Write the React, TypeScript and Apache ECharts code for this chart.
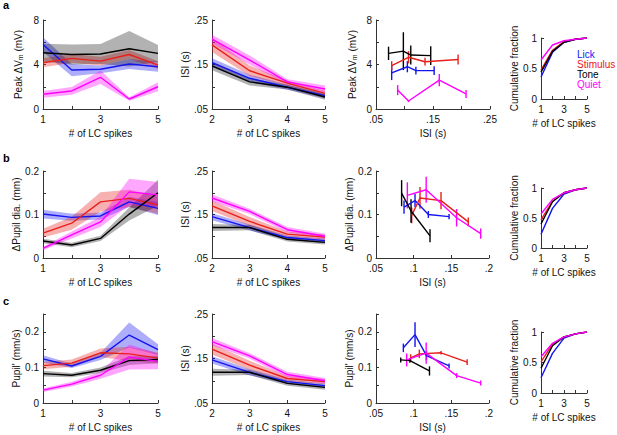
import React, { useEffect, useRef } from 'react';
import * as echarts from 'echarts';

// ---------- DATA ----------
const groupNames = ['Lick', 'Stimulus', 'Tone', 'Quiet'];
const groupColors = ['#1414f0', '#e8201c', '#000000', '#ff00ff'];

const nSpikes = [1, 2, 3, 4, 5];
const nSpikesIsi = [2, 3, 4, 5];

// Row a, panel 1: Peak dVm (mV) vs # LC spikes  (rows: Lick, Stimulus, Tone, Quiet)
const peakVmMean = [
  [5.8, 3.5, 3.57, 4.04, 3.8],
  [4.16, 4.55, 4.3, 4.9, 3.95],
  [5.06, 4.9, 4.94, 5.42, 5.0],
  [1.32, 1.62, 2.85, 0.9, 2.0],
];
const peakVmSem = [
  [0.65, 0.55, 0.35, 0.45, 0.45],
  [0.4, 0.4, 0.4, 0.4, 0.35],
  [0.8, 0.9, 0.9, 1.6, 0.75],
  [0.3, 0.35, 0.6, 0.15, 0.4],
];

// Row a, panel 2: ISI (s) vs # LC spikes
const isiMeanA = [
  [0.154, 0.119, 0.099, 0.08],
  [0.194, 0.136, 0.108, 0.085],
  [0.147, 0.111, 0.099, 0.077],
  [0.207, 0.16, 0.111, 0.095],
];
const isiSemA = [
  [0.01, 0.008, 0.006, 0.006],
  [0.016, 0.012, 0.006, 0.006],
  [0.01, 0.008, 0.005, 0.006],
  [0.01, 0.01, 0.006, 0.008],
];

// Row a, panel 3: Peak dVm vs ISI  (x = ISI, y = value, err = half error bar)
const vmIsiX = [
  [0.0775, 0.105, 0.12, 0.152],
  [0.0775, 0.107, 0.136, 0.194],
  [0.072, 0.098, 0.111, 0.146],
  [0.088, 0.107, 0.161, 0.208],
];
const vmIsiY = [
  [3.25, 3.8, 3.45, 3.45],
  [3.9, 4.65, 4.25, 4.45],
  [5.0, 5.2, 4.85, 4.8],
  [1.7, 0.72, 2.6, 1.35],
];
const vmIsiErr = [
  [0.65, 0.5, 0.35, 0.4],
  [0.4, 0.55, 0.35, 0.45],
  [0.6, 1.7, 0.85, 0.85],
  [0.45, 0.1, 0.55, 0.35],
];

// Row a, panel 4: cumulative fraction
const cumA = [
  [0.36, 0.765, 0.93, 0.98, 1],
  [0.475, 0.8, 0.94, 0.98, 1],
  [0.44, 0.78, 0.93, 0.98, 1],
  [0.64, 0.885, 0.955, 0.98, 1],
];

// Row b, panel 1: dPupil dia. (mm)
const pupilMean = [
  [0.101, 0.0935, 0.0966, 0.129, 0.114],
  [0.057, 0.08, 0.129, 0.137, 0.122],
  [0.039, 0.03, 0.045, 0.101, 0.15],
  [0.022, 0.053, 0.083, 0.152, 0.145],
];
const pupilSem = [
  [0.01, 0.008, 0.008, 0.012, 0.015],
  [0.01, 0.015, 0.022, 0.02, 0.02],
  [0.005, 0.005, 0.006, 0.015, 0.03],
  [0.004, 0.008, 0.012, 0.03, 0.03],
];

// Row b, panel 2: ISI
const isiMeanB = [
  [0.145, 0.12, 0.097, 0.09],
  [0.17, 0.134, 0.105, 0.098],
  [0.12, 0.12, 0.093, 0.086],
  [0.188, 0.157, 0.115, 0.1],
];
const isiSemB = [
  [0.008, 0.007, 0.005, 0.005],
  [0.012, 0.01, 0.006, 0.006],
  [0.008, 0.006, 0.005, 0.005],
  [0.008, 0.006, 0.006, 0.006],
];

// Row b, panel 3: dPupil vs ISI
const pupilIsiX = [
  [0.0872, 0.1018, 0.1195, 0.147],
  [0.0974, 0.1084, 0.1363, 0.1725],
  [0.084, 0.0965, 0.1217],
  [0.0916, 0.1166, 0.157, 0.189],
];
const pupilIsiY = [
  [0.117, 0.132, 0.1, 0.095],
  [0.098, 0.138, 0.132, 0.083],
  [0.149, 0.108, 0.051],
  [0.144, 0.157, 0.0925, 0.056],
];
const pupilIsiErr = [
  [0.015, 0.015, 0.008, 0.006],
  [0.018, 0.025, 0.02, 0.01],
  [0.03, 0.027, 0.015],
  [0.03, 0.03, 0.02, 0.012],
];

// Row b, panel 4: cumulative fraction
const cumB = [
  [0.23, 0.66, 0.9, 0.97, 1],
  [0.467, 0.78, 0.92, 0.97, 1],
  [0.4, 0.77, 0.92, 0.97, 1],
  [0.567, 0.81, 0.92, 0.97, 1],
];

// Row c, panel 1: Pupil' (mm/s)
const pupilDerMean = [
  [0.124, 0.104, 0.131, 0.191, 0.15],
  [0.105, 0.112, 0.141, 0.138, 0.126],
  [0.0825, 0.078, 0.092, 0.119, 0.122],
  [0.036, 0.053, 0.078, 0.129, 0.117],
];
const pupilDerSem = [
  [0.01, 0.006, 0.01, 0.035, 0.015],
  [0.01, 0.01, 0.012, 0.02, 0.015],
  [0.008, 0.006, 0.008, 0.012, 0.01],
  [0.005, 0.007, 0.01, 0.035, 0.022],
];

// Row c, panel 2: ISI
const isiMeanC = [
  [0.147, 0.119, 0.098, 0.089],
  [0.171, 0.135, 0.105, 0.098],
  [0.119, 0.119, 0.094, 0.085],
  [0.188, 0.156, 0.114, 0.1],
];
const isiSemC = isiSemB;

// Row c, panel 3: Pupil' vs ISI
const pupilDerIsiX = [
  [0.0863, 0.1018, 0.117, 0.147],
  [0.096, 0.1075, 0.1363, 0.171],
  [0.0828, 0.095, 0.121],
  [0.0907, 0.1166, 0.157, 0.189],
];
const pupilDerIsiY = [
  [0.155, 0.192, 0.133, 0.104],
  [0.127, 0.138, 0.141, 0.115],
  [0.121, 0.119, 0.09],
  [0.121, 0.14, 0.077, 0.056],
];
const pupilDerIsiErr = [
  [0.012, 0.035, 0.012, 0.007],
  [0.01, 0.012, 0.005, 0.008],
  [0.007, 0.006, 0.013],
  [0.018, 0.03, 0.007, 0.007],
];

// Row c, panel 4: cumulative fraction
const cumC = [
  [0.25, 0.65, 0.9, 0.97, 1],
  [0.51, 0.8, 0.92, 0.97, 1],
  [0.405, 0.775, 0.92, 0.97, 1],
  [0.595, 0.815, 0.92, 0.97, 1],
];

// ---------- LAYOUT / STYLE ----------
const FONT = '"Liberation Sans", Arial, sans-serif';
const rowTop = [20, 171, 314];
const rowH = [89, 87, 89];
const cumTopR = [38, 188, 332];
const cumHR = [61, 60, 61];
const colL = [43, 212, 376, 541];
const colW = [115, 113, 114, 46];

const noLead = (v: number) => (v === 0 ? '0' : String(v).replace(/^0\./, '.'));
const plain = (v: number) => String(v);

type AxisSpec = { min: number; max: number; interval: number; labels: number[]; fmt: (v: number) => string };

const axN: AxisSpec = { min: 1, max: 5, interval: 1, labels: [1, 3, 5], fmt: plain };
const axNIsi: AxisSpec = { min: 2, max: 5, interval: 1, labels: [2, 3, 4, 5], fmt: plain };
const axIsiY: AxisSpec = { min: 0.05, max: 0.25, interval: 0.05, labels: [0.05, 0.15, 0.25], fmt: noLead };
const axIsiXa: AxisSpec = { min: 0.05, max: 0.25, interval: 0.05, labels: [0.05, 0.15, 0.25], fmt: noLead };
const axIsiXb: AxisSpec = { min: 0.05, max: 0.2, interval: 0.05, labels: [0.05, 0.1, 0.15, 0.2], fmt: noLead };
const axVm: AxisSpec = { min: 0, max: 8, interval: 2, labels: [0, 4, 8], fmt: plain };
const axPupil: AxisSpec = { min: 0, max: 0.2, interval: 0.05, labels: [0, 0.1, 0.2], fmt: plain };
const axPupilDer: AxisSpec = { min: 0, max: 0.25, interval: 0.05, labels: [0, 0.1, 0.2], fmt: plain };
const axCum: AxisSpec = { min: 0, max: 1, interval: 0.5, labels: [0, 0.5, 1], fmt: plain };

const vmName = '{n|Peak ΔV}{s|m}{n| (mV)}';

function buildOption() {
  const grid: any[] = [];
  const xAxis: any[] = [];
  const yAxis: any[] = [];
  const series: any[] = [];

  const mkAxis = (spec: AxisSpec, gi: number, name: string, nameGap: number, isY: boolean) => ({
    type: 'value',
    gridIndex: gi,
    min: spec.min,
    max: spec.max,
    interval: spec.interval,
    axisLine: { show: true, onZero: false, lineStyle: { color: '#333', width: 1 } },
    axisTick: { show: true, inside: true, length: 3, lineStyle: { color: '#333', width: 1 } },
    splitLine: { show: false },
    axisLabel: {
      color: '#111',
      fontSize: 10,
      fontFamily: FONT,
      margin: isY ? 4 : 5,
      showMinLabel: true,
      showMaxLabel: true,
      formatter: (v: number) => {
        const r = Math.round(v * 10000) / 10000;
        return spec.labels.some((l) => Math.abs(l - r) < 1e-9) ? spec.fmt(r) : '';
      },
    },
    name,
    nameLocation: 'middle',
    nameGap,
    nameTextStyle: {
      color: '#111',
      fontSize: 10,
      fontFamily: FONT,
      rich: {
        n: { fontSize: 10, fontFamily: FONT, color: '#111', lineHeight: 12 },
        s: { fontSize: 7, fontFamily: FONT, color: '#111', lineHeight: 12, verticalAlign: 'bottom', padding: [4, 0, 0, 0] },
      },
    },
  });

  const addGrid = (left: number, top: number, width: number, height: number) => {
    grid.push({ left, top, width, height, containLabel: false });
    return grid.length - 1;
  };

  const bandPanel = (gi: number, xs: number[], mean: number[][], sem: number[][]) => {
    mean.forEach((m, g) => {
      const lo = m.map((v, i) => v - sem[g][i]);
      const hi = m.map((v, i) => v + sem[g][i]);
      series.push({
        type: 'custom', xAxisIndex: gi, yAxisIndex: gi,
        data: [[xs[0], lo[0]]],
        encode: { x: 0, y: 1 },
        silent: true,
        z: 1,
        renderItem: (params: any, api: any) => {
          const pts: number[][] = [];
          xs.forEach((x, i) => pts.push(api.coord([x, hi[i]])));
          for (let i = xs.length - 1; i >= 0; i--) pts.push(api.coord([xs[i], lo[i]]));
          return {
            type: 'polygon',
            shape: { points: pts },
            style: { fill: groupColors[g], opacity: g === 2 ? 0.3 : 0.35 },
          };
        },
      });
    });
    mean.forEach((m, g) => {
      series.push({
        type: 'line', xAxisIndex: gi, yAxisIndex: gi, data: m.map((v, i) => [xs[i], v]), symbol: 'none',
        lineStyle: { color: groupColors[g], width: 1.4 }, z: 3,
      });
    });
  };

  const errPanel = (gi: number, X: number[][], Y: number[][], E: number[][]) => {
    X.forEach((xs, g) => {
      series.push({
        type: 'line', xAxisIndex: gi, yAxisIndex: gi, data: xs.map((x, i) => [x, Y[g][i]]), symbol: 'none',
        lineStyle: { color: groupColors[g], width: 1.4 }, z: 3,
      });
      series.push({
        type: 'custom', xAxisIndex: gi, yAxisIndex: gi,
        data: xs.map((x, i) => [x, Y[g][i], E[g][i]]),
        encode: { x: 0, y: 1 },
        z: 3,
        renderItem: (params: any, api: any) => {
          const x = api.value(0);
          const y = api.value(1);
          const e = api.value(2);
          const p1 = api.coord([x, y - e]);
          const p2 = api.coord([x, y + e]);
          return {
            type: 'line',
            shape: { x1: p1[0], y1: p1[1], x2: p2[0], y2: p2[1] },
            style: { stroke: groupColors[g], lineWidth: 1.4 },
          };
        },
      });
    });
  };

  const cumPanel = (gi: number, C: number[][]) => {
    C.forEach((c, g) => {
      series.push({
        type: 'line', xAxisIndex: gi, yAxisIndex: gi, data: c.map((v, i) => [nSpikes[i], v]), symbol: 'none',
        lineStyle: { color: groupColors[g], width: 1.4 }, z: 3,
      });
    });
  };

  const rowsCfg = [
    {
      p1: { y: axVm, name: vmName, mean: peakVmMean, sem: peakVmSem },
      p2: { mean: isiMeanA, sem: isiSemA },
      p3: { x: axIsiXa, y: axVm, name: vmName, X: vmIsiX, Y: vmIsiY, E: vmIsiErr },
      cum: cumA,
    },
    {
      p1: { y: axPupil, name: 'ΔPupil dia. (mm)', mean: pupilMean, sem: pupilSem },
      p2: { mean: isiMeanB, sem: isiSemB },
      p3: { x: axIsiXb, y: axPupil, name: 'ΔPupil dia. (mm)', X: pupilIsiX, Y: pupilIsiY, E: pupilIsiErr },
      cum: cumB,
    },
    {
      p1: { y: axPupilDer, name: "Pupil' (mm/s)", mean: pupilDerMean, sem: pupilDerSem },
      p2: { mean: isiMeanC, sem: isiSemC },
      p3: { x: axIsiXb, y: axPupilDer, name: "Pupil' (mm/s)", X: pupilDerIsiX, Y: pupilDerIsiY, E: pupilDerIsiErr },
      cum: cumC,
    },
  ];

  rowsCfg.forEach((rc, r) => {
    let gi = addGrid(colL[0], rowTop[r], colW[0], rowH[r]);
    xAxis.push(mkAxis(axN, gi, '# of LC spikes', 19, false));
    yAxis.push(mkAxis(rc.p1.y, gi, rc.p1.name, 19, true));
    bandPanel(gi, nSpikes, rc.p1.mean, rc.p1.sem);

    gi = addGrid(colL[1], rowTop[r], colW[1], rowH[r]);
    xAxis.push(mkAxis(axNIsi, gi, '# of LC spikes', 19, false));
    yAxis.push(mkAxis(axIsiY, gi, 'ISI (s)', 21, true));
    bandPanel(gi, nSpikesIsi, rc.p2.mean, rc.p2.sem);

    gi = addGrid(colL[2], rowTop[r], colW[2] - (r > 0 ? 1 : 0), rowH[r]);
    xAxis.push(mkAxis(rc.p3.x, gi, 'ISI (s)', 19, false));
    yAxis.push(mkAxis(rc.p3.y, gi, rc.p3.name, 18, true));
    errPanel(gi, rc.p3.X, rc.p3.Y, rc.p3.E);

    gi = addGrid(colL[3], cumTopR[r], colW[3], cumHR[r]);
    xAxis.push(mkAxis(axN, gi, '# of LC spikes', 19, false));
    yAxis.push(mkAxis(axCum, gi, 'Cumulative fraction', 19, true));
    cumPanel(gi, rc.cum);
  });

  const graphic: any[] = [];
  const letters = [
    { t: 'a', y: 5 },
    { t: 'b', y: 158 },
    { t: 'c', y: 301 },
  ];
  letters.forEach((l) =>
    graphic.push({
      type: 'text', left: 3, top: l.y - 6,
      style: { text: l.t, fontSize: 11, fontWeight: 'bold', fontFamily: FONT, fill: '#000' },
    })
  );
  groupNames.forEach((name, g) =>
    graphic.push({
      type: 'text', x: 577, y: 54 + g * 10,
      style: { text: name, fontSize: 10, fontFamily: FONT, fill: groupColors[g], verticalAlign: 'middle' },
    })
  );

  return { animation: false, grid, xAxis, yAxis, series, graphic };
}

export default function App() {
  const ref = useRef<HTMLDivElement>(null);
  useEffect(() => {
    document.body.style.margin = '0';
    if (!ref.current) return;
    const chart = echarts.init(ref.current, undefined, { renderer: 'svg' });
    chart.setOption(buildOption() as any);
    return () => chart.dispose();
  }, []);
  return <div ref={ref} style={{ width: 617, height: 435, background: '#fff' }} />;
}
